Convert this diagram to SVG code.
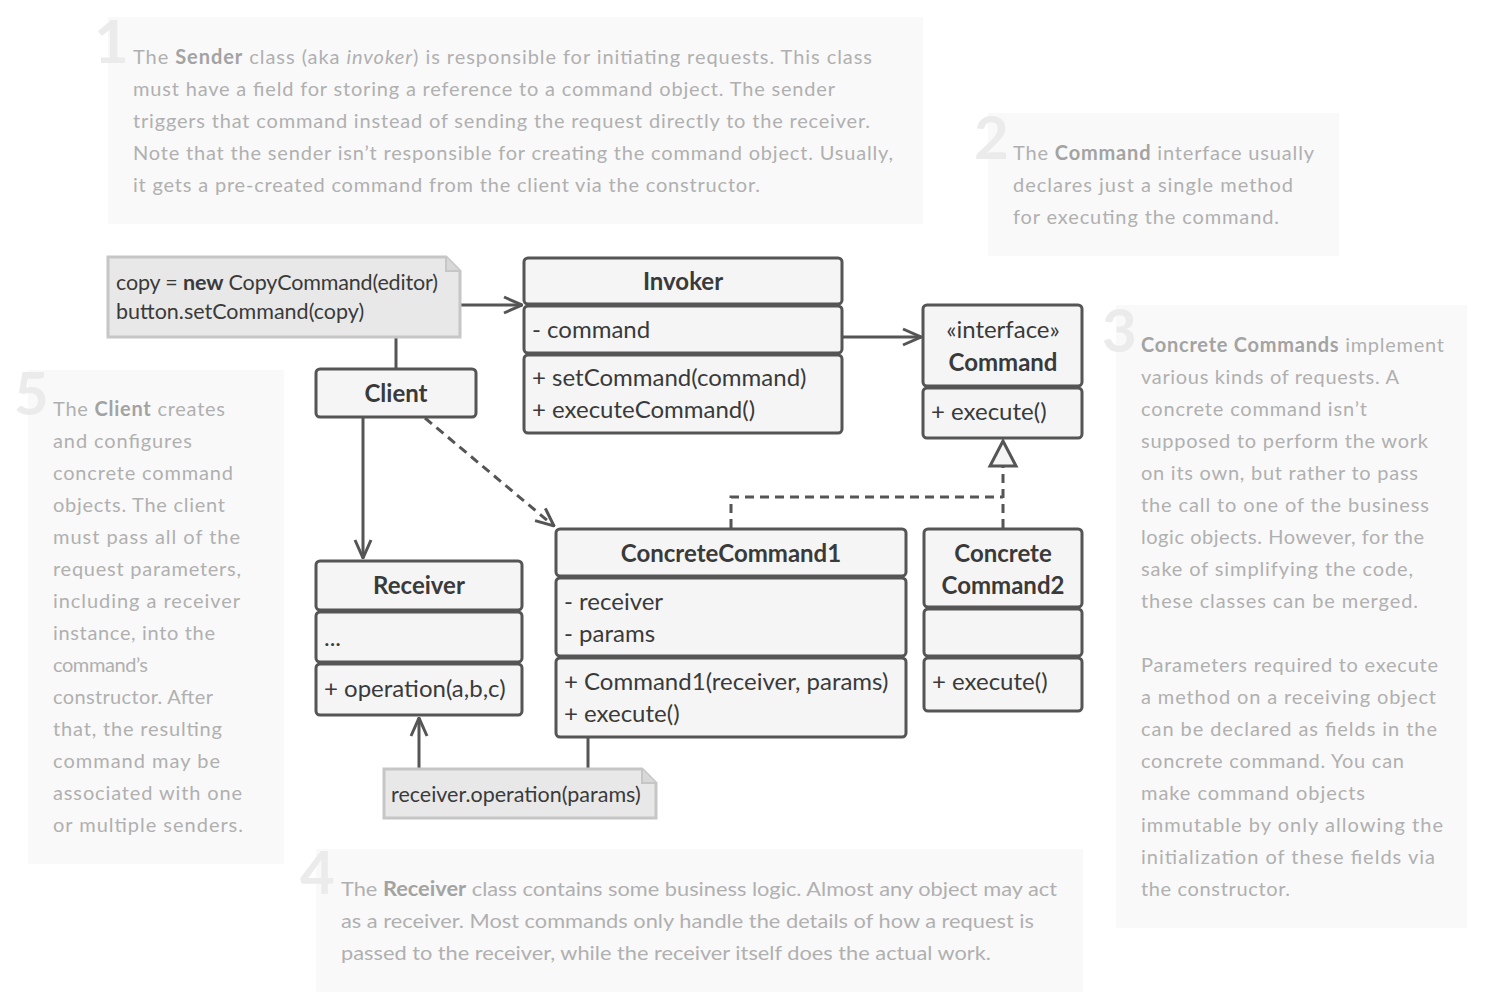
<svg xmlns="http://www.w3.org/2000/svg" width="1498" height="1002" viewBox="0 0 1498 1002">
<style>
.bg{fill:#f9f9f9}
.num{font-family:Lato,"Open Sans",sans-serif;font-weight:700;font-size:60px;fill:#ebebeb}
.dt{font-family:Lato,"Open Sans",sans-serif;font-size:20px;fill:#b0b0b0}
.dt tspan.b{font-weight:700;fill:#a3a3a3}
.box{fill:#f5f5f5;stroke:#555;stroke-width:3}
.note{fill:#e8e8e8;stroke:#c6c6c6;stroke-width:3}
.t{font-family:Lato,"Open Sans",sans-serif;font-size:24px;fill:#3a3a3a}
.nt{font-family:Lato,"Open Sans",sans-serif;font-size:21.5px;fill:#3a3a3a}
.tb{font-family:Lato,"Open Sans",sans-serif;font-size:24px;font-weight:700;fill:#3a3a3a;text-anchor:middle}
.ln{fill:none;stroke:#555;stroke-width:3}
.dash{stroke-dasharray:9 6}
</style>
<defs>
<marker id="open" viewBox="0 0 20 20" refX="19" refY="10" markerWidth="20" markerHeight="20" markerUnits="userSpaceOnUse" orient="auto">
<path d="M1,2 L19,10 L1,18" fill="none" stroke="#555" stroke-width="3"/>
</marker>
</defs>

<g id="desc1">
<rect class="bg" x="108" y="17" width="815" height="207"/>
<text class="num" x="94" y="63">1</text>
<text class="dt" x="133" y="64" textLength="739">The <tspan class="b">Sender</tspan> class (aka <tspan font-style="italic">invoker</tspan>) is responsible for initiating requests. This class</text>
<text class="dt" x="133" y="96" textLength="702">must have a field for storing a reference to a command object. The sender</text>
<text class="dt" x="133" y="128" textLength="737">triggers that command instead of sending the request directly to the receiver.</text>
<text class="dt" x="133" y="160" textLength="760">Note that the sender isn’t responsible for creating the command object. Usually,</text>
<text class="dt" x="133" y="192" textLength="627">it gets a pre-created command from the client via the constructor.</text>
</g>

<g id="desc2">
<rect class="bg" x="988" y="113" width="351" height="143"/>
<text class="num" x="974" y="159">2</text>
<text class="dt" x="1013" y="160" textLength="301">The <tspan class="b">Command</tspan> interface usually</text>
<text class="dt" x="1013" y="192" textLength="280">declares just a single method</text>
<text class="dt" x="1013" y="224" textLength="266">for executing the command.</text>
</g>

<g id="desc3">
<rect class="bg" x="1116" y="305" width="351" height="623"/>
<text class="num" x="1102" y="352">3</text>
<text class="dt" x="1141" y="352" textLength="303"><tspan class="b">Concrete Commands</tspan> implement</text>
<text class="dt" x="1141" y="384" textLength="258">various kinds of requests. A</text>
<text class="dt" x="1141" y="416" textLength="226">concrete command isn’t</text>
<text class="dt" x="1141" y="448" textLength="287">supposed to perform the work</text>
<text class="dt" x="1141" y="480" textLength="277">on its own, but rather to pass</text>
<text class="dt" x="1141" y="512" textLength="288">the call to one of the business</text>
<text class="dt" x="1141" y="544" textLength="283">logic objects. However, for the</text>
<text class="dt" x="1141" y="576" textLength="272">sake of simplifying the code,</text>
<text class="dt" x="1141" y="608" textLength="277">these classes can be merged.</text>
<text class="dt" x="1141" y="672" textLength="297">Parameters required to execute</text>
<text class="dt" x="1141" y="704" textLength="295">a method on a receiving object</text>
<text class="dt" x="1141" y="736" textLength="296">can be declared as fields in the</text>
<text class="dt" x="1141" y="768" textLength="263">concrete command. You can</text>
<text class="dt" x="1141" y="800" textLength="224">make command objects</text>
<text class="dt" x="1141" y="832" textLength="302">immutable by only allowing the</text>
<text class="dt" x="1141" y="864" textLength="294">initialization of these fields via</text>
<text class="dt" x="1141" y="896" textLength="149">the constructor.</text>
</g>

<g id="desc5">
<rect class="bg" x="28" y="370" width="256" height="494"/>
<text class="num" x="14" y="415">5</text>
<text class="dt" x="53" y="416" textLength="172">The <tspan class="b">Client</tspan> creates</text>
<text class="dt" x="53" y="448" textLength="139">and configures</text>
<text class="dt" x="53" y="480" textLength="180">concrete command</text>
<text class="dt" x="53" y="512" textLength="172">objects. The client</text>
<text class="dt" x="53" y="544" textLength="187">must pass all of the</text>
<text class="dt" x="53" y="576" textLength="188">request parameters,</text>
<text class="dt" x="53" y="608" textLength="187">including a receiver</text>
<text class="dt" x="53" y="640" textLength="162">instance, into the</text>
<text class="dt" x="53" y="672" textLength="95">command’s</text>
<text class="dt" x="53" y="704" textLength="160">constructor. After</text>
<text class="dt" x="53" y="736" textLength="169">that, the resulting</text>
<text class="dt" x="53" y="768" textLength="167">command may be</text>
<text class="dt" x="53" y="800" textLength="189">associated with one</text>
<text class="dt" x="53" y="832" textLength="190">or multiple senders.</text>
</g>

<g id="desc4">
<rect class="bg" x="316" y="849" width="767" height="143"/>
<text class="num" x="300" y="894">4</text>
<text class="dt" x="341" y="896" textLength="716" lengthAdjust="spacingAndGlyphs">The <tspan class="b">Receiver</tspan> class contains some business logic. Almost any object may act</text>
<text class="dt" x="341" y="928" textLength="693" lengthAdjust="spacingAndGlyphs">as a receiver. Most commands only handle the details of how a request is</text>
<text class="dt" x="341" y="960" textLength="650" lengthAdjust="spacingAndGlyphs">passed to the receiver, while the receiver itself does the actual work.</text>
</g>

<g id="connectors">
<line class="ln" x1="460" y1="305" x2="522" y2="305" marker-end="url(#open)"/>
<line class="ln" x1="843" y1="337" x2="921" y2="337" marker-end="url(#open)"/>
<line class="ln" x1="396" y1="337" x2="396" y2="369"/>
<line class="ln" x1="363" y1="417" x2="363" y2="558" marker-end="url(#open)"/>
<line class="ln dash" x1="425" y1="418" x2="554" y2="526" marker-end="url(#open)"/>
<polyline class="ln dash" points="731,528 731,497 1003,497"/>
<line class="ln dash" x1="1003" y1="528" x2="1003" y2="466"/>
<polygon points="1003,441 990,466 1016,466" fill="#f5f5f5" stroke="#555" stroke-width="3"/>
<line class="ln" x1="588" y1="737" x2="588" y2="769"/>
<line class="ln" x1="419" y1="769" x2="419" y2="718" marker-end="url(#open)"/>
</g>

<g id="note1">
<path class="note" d="M108,257 H446 L460,271 V337 H108 Z"/>
<path d="M446,257 V271 H460" fill="#d8d8d8" stroke="#c6c6c6" stroke-width="2"/>
<text class="nt" x="116" y="290" textLength="322">copy = <tspan font-weight="700">new</tspan> CopyCommand(editor)</text>
<text class="nt" x="116" y="319">button.setCommand(copy)</text>
</g>

<g id="invoker">
<rect class="box" x="524" y="258" width="318" height="46" rx="4"/>
<rect class="box" x="524" y="306" width="318" height="47" rx="4"/>
<rect class="box" x="524" y="355" width="318" height="78" rx="4"/>
<text class="tb" x="683" y="290">Invoker</text>
<text class="t" x="532" y="338">- command</text>
<text class="t" x="532" y="386">+ setCommand(command)</text>
<text class="t" x="532" y="418">+ executeCommand()</text>
</g>

<g id="command">
<rect class="box" x="923" y="305" width="159" height="81" rx="4"/>
<rect class="box" x="923" y="388" width="159" height="50" rx="4"/>
<text class="t" x="1003" y="338" text-anchor="middle">«interface»</text>
<text class="tb" x="1003" y="371">Command</text>
<text class="t" x="931" y="420">+ execute()</text>
</g>

<g id="client">
<rect class="box" x="316" y="369" width="160" height="48" rx="4"/>
<text class="tb" x="396" y="402">Client</text>
</g>

<g id="receiver">
<rect class="box" x="316" y="561" width="206" height="49" rx="4"/>
<rect class="box" x="316" y="612" width="206" height="50" rx="4"/>
<rect class="box" x="316" y="664" width="206" height="51" rx="4"/>
<text class="tb" x="419" y="594">Receiver</text>
<text class="t" x="324" y="646">...</text>
<text class="t" x="324" y="697">+ operation(a,b,c)</text>
</g>

<g id="concreteCommand1">
<rect class="box" x="556" y="529" width="350" height="47" rx="4"/>
<rect class="box" x="556" y="578" width="350" height="78" rx="4"/>
<rect class="box" x="556" y="658" width="350" height="79" rx="4"/>
<text class="tb" x="731" y="562">ConcreteCommand1</text>
<text class="t" x="564" y="610">- receiver</text>
<text class="t" x="564" y="642">- params</text>
<text class="t" x="564" y="690">+ Command1(receiver, params)</text>
<text class="t" x="564" y="722">+ execute()</text>
</g>

<g id="concreteCommand2">
<rect class="box" x="924" y="529" width="158" height="78" rx="4"/>
<rect class="box" x="924" y="609" width="158" height="47" rx="4"/>
<rect class="box" x="924" y="658" width="158" height="53" rx="4"/>
<text class="tb" x="1003" y="562">Concrete</text>
<text class="tb" x="1003" y="594">Command2</text>
<text class="t" x="932" y="690">+ execute()</text>
</g>

<g id="note2">
<path class="note" d="M384,769 H642 L656,783 V818 H384 Z"/>
<path d="M642,769 V783 H656" fill="#d8d8d8" stroke="#c6c6c6" stroke-width="2"/>
<text class="nt" x="391" y="802">receiver.operation(params)</text>
</g>
</svg>
